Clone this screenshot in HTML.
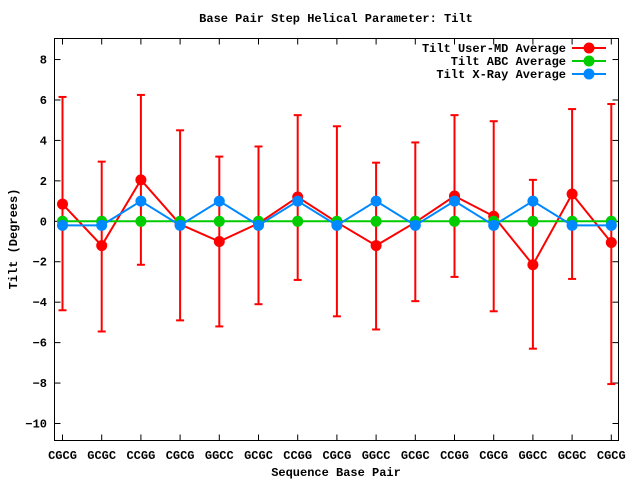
<!DOCTYPE html>
<html><head><meta charset="utf-8"><style>
body{margin:0;background:#fff}
svg text{font-family:"Liberation Mono",monospace;font-weight:bold;font-size:12px;fill:#000}
</style></head><body>
<svg id="s" width="640" height="480" xmlns="http://www.w3.org/2000/svg">
<rect x="0" y="0" width="640" height="480" fill="#fff"/>
</svg>
<script>
const s=document.getElementById('s');
const NS='http://www.w3.org/2000/svg';
function el(t,a,txt){const e=document.createElementNS(NS,t);for(const k in a)e.setAttribute(k,a[k]);if(txt!==undefined)e.textContent=txt;s.appendChild(e);return e;}
const L=54.5,R=618.5,T=38.5,B=440.5;
const Y=v=>221.3-v*20.22;
const X=i=>62.5+i*39.2;
// y ticks
for(let v=-10;v<=8;v+=2){const y=Y(v);
el('line',{x1:L,y1:y,x2:L+6,y2:y,stroke:'#000','stroke-width':1});
el('line',{x1:R,y1:y,x2:R-6,y2:y,stroke:'#000','stroke-width':1});
el('text',{x:47,y:y+4,'text-anchor':'end'},String(v).replace('-','\u2212'));}
const labs=['CGCG','GCGC','CCGG','CGCG','GGCC','GCGC','CCGG','CGCG','GGCC','GCGC','CCGG','CGCG','GGCC','GCGC','CGCG'];
labs.forEach((l,i)=>{const x=X(i);
el('line',{x1:x,y1:B,x2:x,y2:B-6,stroke:'#000'});
el('line',{x1:x,y1:T,x2:x,y2:T+6,stroke:'#000'});
el('text',{x:x,y:459,'text-anchor':'middle'},l);});
el('text',{x:336,y:22,'text-anchor':'middle'},'Base Pair Step Helical Parameter: Tilt');
el('text',{x:336,y:476,'text-anchor':'middle'},'Sequence Base Pair');
el('text',{x:17,y:239,'text-anchor':'middle',transform:'rotate(-90 17 239)'},'Tilt (Degrees)');
const red=[[0.85,-4.4,6.15],[-1.2,-5.45,2.95],[2.05,-2.15,6.25],[-0.15,-4.9,4.5],[-1.0,-5.2,3.2],[-0.1,-4.1,3.7],[1.2,-2.9,5.25],[-0.05,-4.7,4.7],[-1.2,-5.35,2.9],[-0.05,-3.95,3.9],[1.25,-2.75,5.25],[0.25,-4.45,4.95],[-2.15,-6.3,2.05],[1.35,-2.85,5.55],[-1.05,-8.05,5.8]];
const blue=[-0.2,-0.2,1,-0.2,1,-0.2,1,-0.2,1,-0.2,1,-0.2,1,-0.2,-0.2];
red.forEach((d,i)=>{const x=X(i);
el('line',{x1:x,y1:Y(d[1]),x2:x,y2:Y(d[2]),stroke:'#f00','stroke-width':2});
el('line',{x1:x-4,y1:Y(d[1]),x2:x+4,y2:Y(d[1]),stroke:'#f00','stroke-width':2});
el('line',{x1:x-4,y1:Y(d[2]),x2:x+4,y2:Y(d[2]),stroke:'#f00','stroke-width':2});});
function series(vals,c){el('polyline',{points:vals.map((v,i)=>X(i)+','+Y(v)).join(' '),fill:'none',stroke:c,'stroke-width':2});
vals.forEach((v,i)=>el('circle',{cx:X(i),cy:Y(v),r:5.5,fill:c}));}
series(red.map(d=>d[0]),'#f00');
series(red.map(()=>0),'#0c0');
series(blue,'#08f');
// legend
[['Tilt User-MD Average','#f00',48],['Tilt ABC Average','#0c0',61],['Tilt X-Ray Average','#08f',74]].forEach(([t,c,y])=>{
el('text',{x:566,y:y+4,'text-anchor':'end'},t);
el('line',{x1:572,y1:y,x2:606,y2:y,stroke:c,'stroke-width':2});
el('circle',{cx:589,cy:y,r:5.5,fill:c});});
el('rect',{x:L,y:T,width:R-L,height:B-T,fill:'none',stroke:'#000','stroke-width':1});
</script>
</body></html>
